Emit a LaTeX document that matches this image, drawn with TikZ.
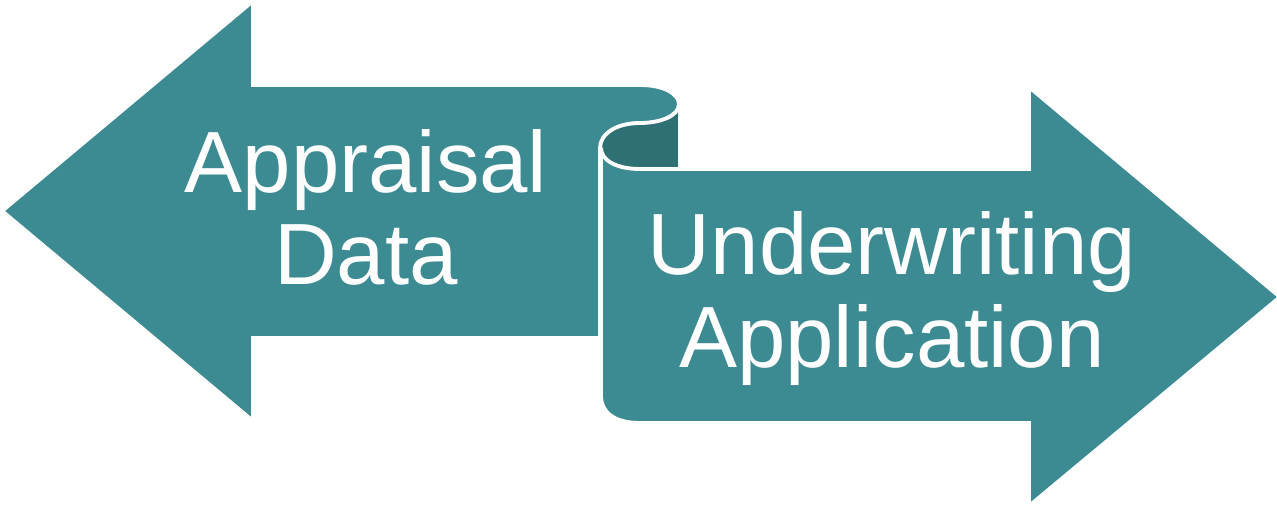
\documentclass[tikz,border=0pt]{standalone}
\usepackage{fontspec}
\setmainfont{Liberation Sans}
\usepackage{tikz}
\usetikzlibrary{positioning}
\definecolor{scrollteal}{RGB}{61,139,146}
\definecolor{scrolldark}{RGB}{47,112,116}

\begin{document}
\begin{tikzpicture}[
		x=0.02cm, y=-0.02cm,
		band/.style={fill=scrollteal, draw=white, line width=2.2pt, line join=miter},
		lbl/.style={text=white, align=center, font=\fontsize{49.5}{52.4}\selectfont, anchor=base}
		]
		\useasboundingbox (0,0) rectangle (1277,506);
		
		% back side of the rolled edge
		\fill[scrolldark] (600,110) rectangle (678,169);
		
		% arrow pointing left, with the curled top edge
		\draw[band] (2,211) -- (253,1) -- (253,85) -- (640,85)
			.. controls (664,85) and (679,94) .. (679,104)
			.. controls (679,116) and (660,123) .. (640,123)
			.. controls (616,123) and (600,134) .. (600,148)
			-- (600,338) -- (253,338) -- (253,421) -- cycle;
		
		% arrow pointing right
		\draw[band] (640,169) -- (1029,169) -- (1029,87) -- (1280,297) -- (1029,506)
			-- (1029,423) -- (640,423)
			.. controls (614,423) and (601,412) .. (601,396)
			-- (601,148) .. controls (601,160) and (616,169) .. (640,169) -- cycle;
		
		% labels, placed by the baseline of their last line
		\node[lbl] (appraisal) at (366,285) {Appraisal\\Data};
		\node[lbl] (underwriting) at (892,367) {Underwriting\\Application};
	\end{tikzpicture}
\end{document}
